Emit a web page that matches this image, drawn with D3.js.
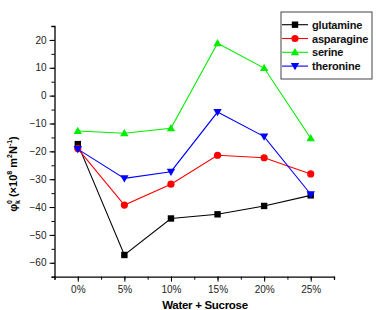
<!DOCTYPE html>
<html><head><meta charset="utf-8">
<script src="https://cdn.jsdelivr.net/npm/d3@7"></script>
<style>body{margin:0;background:#fff}svg{display:block}text{font-family:Arial,"Liberation Sans",sans-serif}</style>
</head><body><svg id="c" width="376" height="310"></svg>
<script>
const categories = [0, 5, 10, 15, 20, 25];
const tickLabels = ["0%", "5%", "10%", "15%", "20%", "25%"];
const glutamine = [-17.4, -57.2, -44.1, -42.6, -39.6, -35.8];
const asparagine = [-19.0, -39.3, -31.8, -21.4, -22.3, -28.1];
const serine = [-12.7, -13.5, -11.7, 18.8, 9.9, -15.3];
const theronine = [-19.2, -29.7, -27.3, -5.9, -14.7, -35.4];
const yTicks = [20, 10, 0, -10, -20, -30, -40, -50, -60];

const series = [
  {name: "glutamine", values: glutamine, color: "#000000", shape: "square"},
  {name: "asparagine", values: asparagine, color: "#ff0000", shape: "circle"},
  {name: "serine", values: serine, color: "#00ee00", shape: "up"},
  {name: "theronine", values: theronine, color: "#0000ff", shape: "down"}
];

const svg = d3.select("#c");
const L = 54.5, R = 334, T = 26, B = 276.7;
const x = d3.scaleLinear().domain([-2.5, 27.5]).range([L, R]);
const y = d3.scaleLinear().domain([-65, 25]).range([B, T]);

// axes
svg.append("g").attr("transform", `translate(0,${B})`)
  .call(d3.axisBottom(x).tickValues(d3.range(-2.5, 27.6, 2.5)).tickSize(3).tickFormat(""));
const xAxisMaj = svg.append("g").attr("transform", `translate(0,${B})`)
  .call(d3.axisBottom(x).tickValues(categories).tickSize(5).tickPadding(4).tickFormat((d,i)=>tickLabels[i]));
xAxisMaj.select(".domain").remove();
xAxisMaj.selectAll("text").attr("font-size", 10).attr("fill", "#222");

svg.append("g").attr("transform", `translate(${L},0)`)
  .call(d3.axisLeft(y).tickValues(d3.range(-65, 25.1, 5)).tickSize(3).tickFormat(""));
const yAxisMaj = svg.append("g").attr("transform", `translate(${L},0)`)
  .call(d3.axisLeft(y).tickValues(yTicks).tickSize(5).tickPadding(3));
yAxisMaj.select(".domain").remove();
yAxisMaj.selectAll("text").attr("font-size", 10).attr("fill", "#222");
svg.selectAll(".domain").attr("stroke", "#000").attr("stroke-width", 1.3);
svg.selectAll(".tick line").attr("stroke", "#000");

// axis titles
svg.append("text").attr("x", 205).attr("y", 309).attr("text-anchor", "middle")
  .attr("font-size", 11.5).attr("font-weight", "bold").attr("letter-spacing", -0.3).text("Water + Sucrose");
const yl = svg.append("text").attr("transform", "translate(17,174) rotate(-90)")
  .attr("text-anchor", "middle").attr("font-size", 11).attr("font-weight", "bold");
yl.append("tspan").text("φ");
yl.append("tspan").attr("font-size", 7).attr("dy", -5).text("0");
yl.append("tspan").attr("font-size", 7).attr("dy", 8).attr("dx", -4).text("k");
yl.append("tspan").attr("dy", -3).text(" (×10");
yl.append("tspan").attr("font-size", 7).attr("dy", -5).text("8");
yl.append("tspan").attr("dy", 5).text(" m");
yl.append("tspan").attr("font-size", 7).attr("dy", -5).text("2");
yl.append("tspan").attr("dy", 5).text("N");
yl.append("tspan").attr("font-size", 7).attr("dy", -5).text("-1");
yl.append("tspan").attr("dy", 5).text(")");

function marker(g, shape, cx, cy, color) {
  if (shape === "square") g.append("rect").attr("x", cx - 3.2).attr("y", cy - 3.2).attr("width", 6.4).attr("height", 6.4).attr("fill", color);
  else if (shape === "circle") g.append("circle").attr("cx", cx).attr("cy", cy).attr("r", 3.6).attr("fill", color);
  else if (shape === "up") g.append("path").attr("d", `M${cx},${cy-4.2}L${cx+4.2},${cy+3}L${cx-4.2},${cy+3}Z`).attr("fill", color);
  else g.append("path").attr("d", `M${cx},${cy+4.2}L${cx+4.2},${cy-3}L${cx-4.2},${cy-3}Z`).attr("fill", color);
}

const line = d3.line().x((d,i)=>x(categories[i])).y(d=>y(d));
series.forEach(s => {
  const g = svg.append("g");
  g.append("path").attr("d", line(s.values)).attr("fill", "none").attr("stroke", s.color).attr("stroke-width", 1.1);
  s.values.forEach((v,i) => marker(g, s.shape, x(categories[i]), y(v), s.color));
});

// legend
const lg = svg.append("g");
lg.append("rect").attr("x", 281).attr("y", 12).attr("width", 91).attr("height", 67)
  .attr("fill", "#fff").attr("stroke", "#444").attr("stroke-width", 1);
series.forEach((s,i) => {
  const cy = 24.7 + i * 13.8;
  lg.append("line").attr("x1", 282).attr("x2", 308).attr("y1", cy).attr("y2", cy).attr("stroke", s.color).attr("stroke-width", 1.1);
  marker(lg, s.shape, 295, cy, s.color);
  lg.append("text").attr("x", 312).attr("y", cy + 4).attr("font-size", 11).attr("font-weight", "bold").attr("letter-spacing", -0.2).attr("fill", "#111").text(s.name);
});
</script></body></html>
